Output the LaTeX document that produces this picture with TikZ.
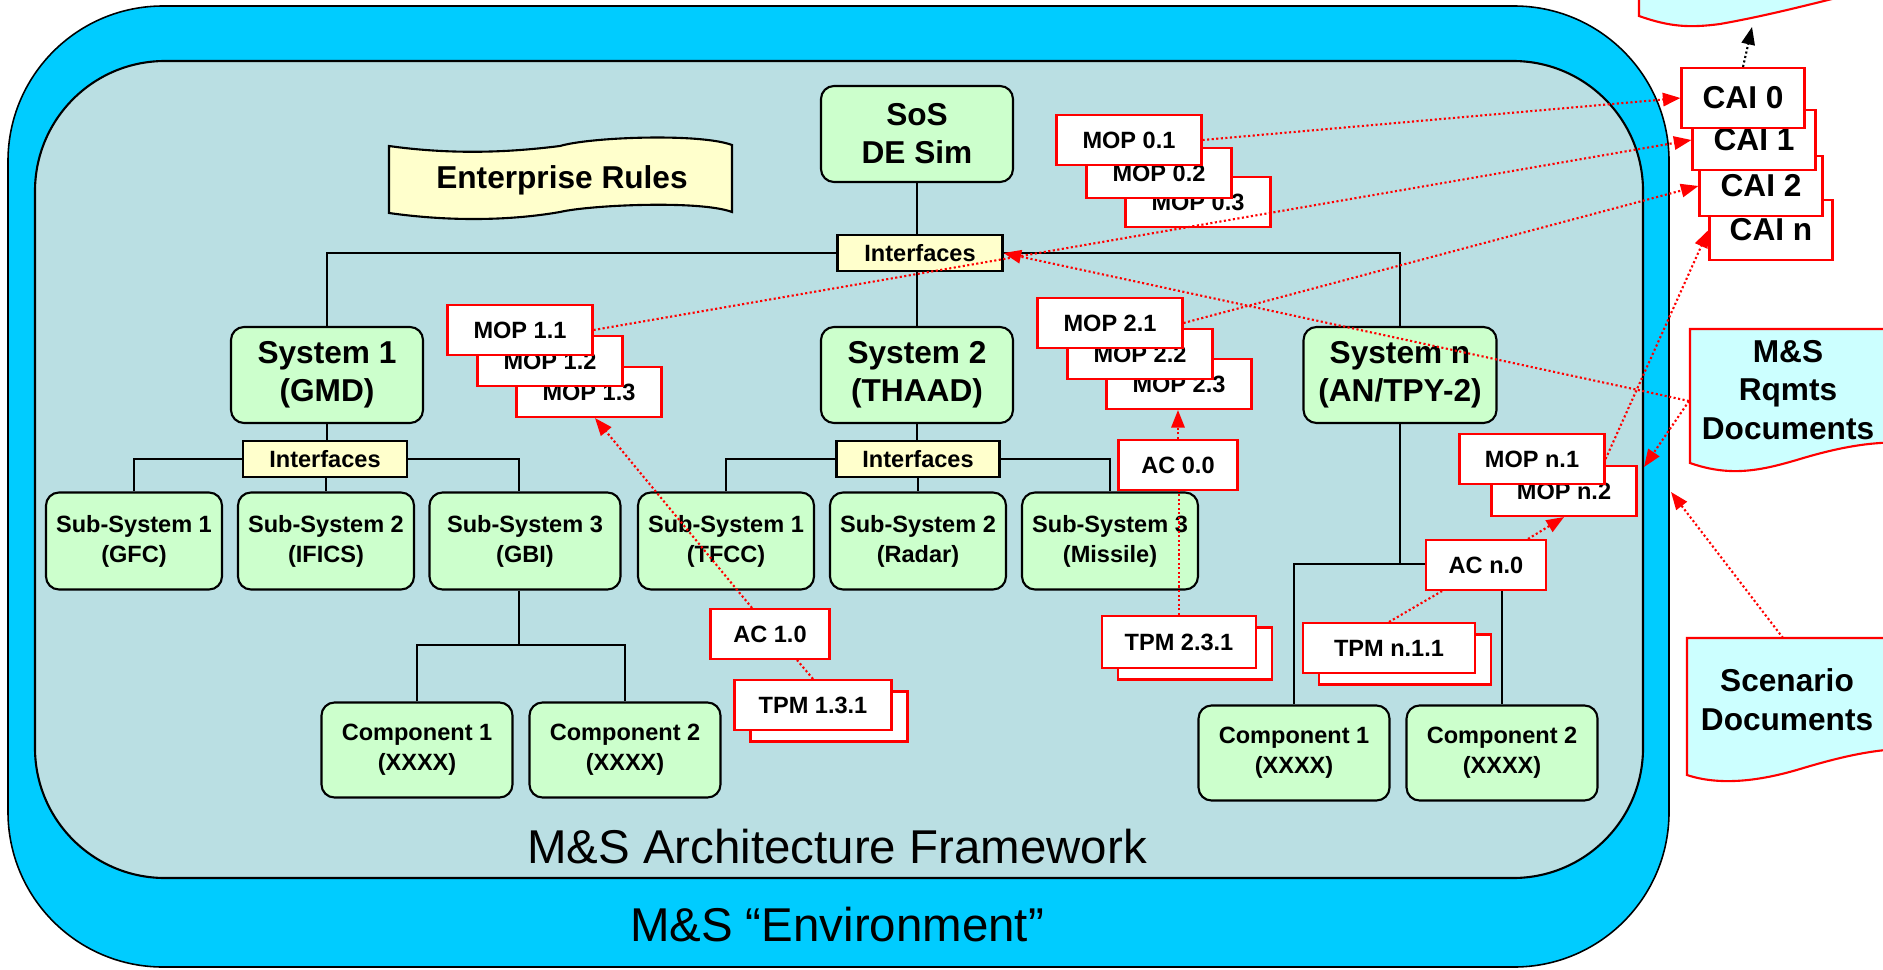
\documentclass[tikz,border=0pt]{standalone}
\usepackage{fontspec}
\setmainfont{Liberation Sans}
\usetikzlibrary{arrows.meta,shadows}

\definecolor{envblue}{RGB}{0,204,255}
\definecolor{framegray}{RGB}{186,223,227}
\definecolor{boxgreen}{RGB}{204,255,204}
\definecolor{boxyellow}{RGB}{255,255,204}
\definecolor{doccyan}{RGB}{204,255,255}

\tikzstyle{simbox} = [draw, line width=0.6pt, fill=boxgreen, rounded corners=0.13cm, align=center, inner sep=0pt,
  font=\fontsize{9}{10.8}\selectfont\bfseries, minimum width=1.92cm, minimum height=0.96cm]
\tikzstyle{subbox} = [simbox, font=\fontsize{6.7}{8.5}\selectfont\bfseries, minimum width=1.76cm, minimum height=0.97cm]
\tikzstyle{compbox} = [subbox, minimum width=1.91cm, minimum height=0.95cm]
\tikzstyle{ifbox} = [draw, line width=0.6pt, fill=boxyellow, inner sep=0pt,
  font=\fontsize{6.7}{8}\selectfont\bfseries, minimum width=1.64cm, minimum height=0.36cm]
\tikzstyle{mbox} = [draw=red, line width=0.6pt, fill=white, inner sep=0pt,
  font=\fontsize{6.7}{8}\selectfont\bfseries, minimum width=1.45cm, minimum height=0.5cm]
\tikzstyle{acbox} = [mbox, minimum width=1.19cm]
\tikzstyle{tpmbox} = [mbox, copy shadow={shadow xshift=0.16cm, shadow yshift=-0.115cm}]
\tikzstyle{caibox} = [mbox, font=\fontsize{9}{10}\selectfont\bfseries, minimum width=1.23cm, minimum height=0.6cm]
\tikzstyle{doc} = [draw=red, line width=0.6pt, fill=doccyan]
\tikzstyle{doctext} = [align=center, font=\fontsize{9}{11}\selectfont\bfseries]
\tikzstyle{tree} = [line width=0.6pt]
\tikzstyle{link} = [red, line width=0.6pt, dash pattern=on 0.6pt off 0.7pt]
\tikzstyle{linkto} = [link, -{Triangle[length=5pt,width=3.8pt]}]

\begin{document}
\begin{tikzpicture}
        \useasboundingbox (0,0) rectangle (18.83,9.69);
        \clip (0,0) rectangle (18.83,9.69);

        % Environment and framework
        \draw[fill=envblue, line width=0.45pt, rounded corners=1.55cm] (0.08,0.02) rectangle (16.69,9.63);
        \draw[fill=framegray, line width=0.6pt, rounded corners=1.3cm] (0.35,0.91) rectangle (16.43,9.08);
        \node (fwlabel) at (8.37,1.22) {\fontsize{13.5}{16}\selectfont M\&S Architecture Framework};
        \node (envlabel) at (8.37,0.44) {\fontsize{13.5}{16}\selectfont M\&S “Environment”};

        % Enterprise rules banner
        \draw[fill=boxyellow, line width=0.6pt] (3.89,8.23)
          .. controls (4.6,8.13) and (5.2,8.18) .. (5.6,8.23)
          .. controls (5.9,8.32) and (7.0,8.36) .. (7.32,8.24) -- (7.32,7.57)
          .. controls (7.0,7.69) and (5.9,7.64) .. (5.6,7.57)
          .. controls (5.2,7.50) and (4.6,7.46) .. (3.89,7.56) -- cycle;
        \node[doctext] (rules) at (5.62,7.89) {Enterprise Rules};

        % Documents
        \draw[doc] (16.39,10.0) -- (16.39,9.53)
          .. controls (16.7,9.42) and (16.9,9.41) .. (17.2,9.45)
          .. controls (17.6,9.52) and (18.0,9.62) .. (18.4,9.72) -- (18.4,10.0) -- cycle;
        \draw[doc] (16.90,6.40) -- (16.90,5.06)
          .. controls (17.3,4.92) and (17.6,4.98) .. (18.0,5.10)
          .. controls (18.4,5.22) and (18.8,5.30) .. (19.2,5.25) -- (19.2,6.40) -- cycle;
        \draw[doc] (16.87,3.31) -- (16.87,1.94)
          .. controls (17.2,1.83) and (17.6,1.88) .. (18.0,2.00)
          .. controls (18.4,2.12) and (18.8,2.22) .. (19.2,2.20) -- (19.2,3.31) -- cycle;
        \node[doctext] (rqdoc) at (17.88,5.79) {M\&S\\Rqmts\\Documents};
        \node[doctext] (scdoc) at (17.87,2.69) {Scenario\\Documents};
        \coordinate (topdoc) at (17.52,9.42);
        \coordinate (rq) at (16.89,5.68);
        \coordinate (sc) at (17.83,3.31);
        \coordinate (fwedge) at (16.44,5.02);
        \coordinate (envedge) at (16.71,4.77);

        % SoS and systems
        \node[simbox] (sos) at (9.17,8.35) {SoS\\DE Sim};
        \node[ifbox, minimum width=1.65cm] (ifsos) at (9.20,7.16) {Interfaces};
        \node[simbox] (sys1) at (3.27,5.94) {System 1\\(GMD)};
        \node[simbox] (sys2) at (9.17,5.94) {System 2\\(THAAD)};
        \node[simbox, minimum width=1.93cm] (sysn) at (14.00,5.94) {System n\\(AN/TPY-2)};

        % Sub-systems
        \node[ifbox] (if1) at (3.25,5.10) {Interfaces};
        \node[ifbox, minimum width=1.63cm] (if2) at (9.18,5.10) {Interfaces};
        \node[subbox] (sub11) at (1.34,4.28) {Sub-System 1\\(GFC)};
        \node[subbox] (sub12) at (3.26,4.28) {Sub-System 2\\(IFICS)};
        \node[subbox, minimum width=1.91cm] (sub13) at (5.25,4.28) {Sub-System 3\\(GBI)};
        \node[subbox] (sub21) at (7.26,4.28) {Sub-System 1\\(TFCC)};
        \node[subbox] (sub22) at (9.18,4.28) {Sub-System 2\\(Radar)};
        \node[subbox] (sub23) at (11.10,4.28) {Sub-System 3\\(Missile)};

        % Components
        \node[compbox] (comp11) at (4.17,2.19) {Component 1\\(XXXX)};
        \node[compbox] (comp12) at (6.25,2.19) {Component 2\\(XXXX)};
        \node[compbox] (compn1) at (12.94,2.16) {Component 1\\(XXXX)};
        \node[compbox] (compn2) at (15.02,2.16) {Component 2\\(XXXX)};
        \coordinate (j13) at (5.19,3.24);
        \coordinate (jn) at (14.00,4.05);

        % Tree
        \draw[tree] (sos) -- (sos |- ifsos.north);
        \draw[tree] (sys1.north) |- (ifsos.west);
        \draw[tree] (ifsos.east) -| (sysn.north);
        \draw[tree] (sys2.north |- ifsos.south) -- (sys2.north);
        \draw[tree] (sys1.south) -- (sys1.south |- if1.north);
        \draw[tree] (sub11.north) |- (if1.west);
        \draw[tree] (if1.east) -| (j13 |- sub13.north);
        \draw[tree] (sub12.north |- if1.south) -- (sub12.north);
        \draw[tree] (sys2.south) -- (sys2.south |- if2.north);
        \draw[tree] (sub21.north) |- (if2.west);
        \draw[tree] (if2.east) -| (sub23.north);
        \draw[tree] (sub22.north |- if2.south) -- (sub22.north);
        \draw[tree] (j13 |- sub13.south) -- (j13);
        \draw[tree] (comp11.north) |- (j13) -| (comp12.north);
        \draw[tree] (sysn.south) -- (jn);
        \draw[tree] (compn1.north) |- (jn) -| (compn2.north);

        % Measures
        \foreach \name/\x/\y/\txt in {mop03/11.98/7.67/MOP 0.3, mop02/11.59/7.96/MOP 0.2, mop01/11.29/8.29/MOP 0.1,
            mop13/5.89/5.77/MOP 1.3, mop12/5.50/6.08/MOP 1.2, mop11/5.20/6.39/MOP 1.1,
            mop23/11.79/5.85/MOP 2.3, mop22/11.40/6.15/MOP 2.2, mop21/11.10/6.46/MOP 2.1,
            mopn2/15.64/4.78/MOP n.2, mopn1/15.32/5.10/MOP n.1}
        {
          \node[mbox] (\name) at (\x,\y) {\txt};
        }
        \node[acbox] (ac00) at (11.78,5.04) {AC 0.0};
        \node[acbox] (ac10) at (7.70,3.35) {AC 1.0};
        \node[acbox, minimum width=1.20cm] (acn0) at (14.86,4.04) {AC n.0};
        \node[tpmbox, minimum width=1.57cm] (tpm131) at (8.13,2.64) {TPM 1.3.1};
        \node[tpmbox, minimum width=1.54cm, minimum height=0.52cm] (tpm231) at (11.79,3.27) {TPM 2.3.1};
        \node[tpmbox, minimum width=1.72cm] (tpmn11) at (13.89,3.21) {TPM n.1.1};
        \foreach \name/\x/\y/\txt in {cain/17.71/7.39/CAI n, cai2/17.61/7.83/CAI 2, cai1/17.54/8.29/CAI 1, cai0/17.43/8.71/CAI 0}
        {
          \node[caibox] (\name) at (\x,\y) {\txt};
        }

        % Links
        \draw[linkto] (mop01.east) -- (cai0.west);
        \draw[linkto] (mop11.east) -- (cai1.west);
        \draw[linkto] (mop21.east) -- (cai2.west);
        \draw[linkto] (mopn1.east) -- (cain.west);
        \draw[linkto] (rq) -- (ifsos.east);
        \draw[linkto] (rq) -- (fwedge);
        \draw[linkto] (sc) -- (envedge);
        \draw[linkto] ([xshift=-0.18cm]ac10.north) -- ([xshift=0.06cm]mop13.south);
        \draw[link] (tpm131.north) -- ([xshift=0.27cm]ac10.south);
        \draw[linkto] (ac00.north) -- (ac00.north |- mop23.south);
        \draw[link] (tpm231.north) -- (tpm231.north |- ac00.south);
        \draw[linkto] ([xshift=0.42cm]acn0.north) -- (mopn2.south);
        \draw[link] (tpmn11.north) -- ([xshift=-0.44cm]acn0.south);
        \draw[linkto, black] (cai0.north) -- (topdoc);
\end{tikzpicture}
\end{document}
